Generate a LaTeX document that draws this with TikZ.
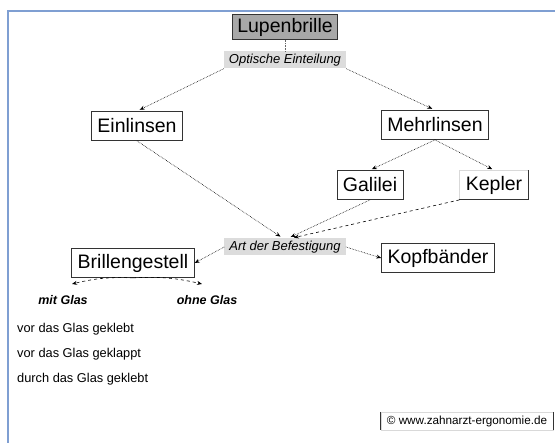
\documentclass[tikz,border=0pt]{standalone}
\usepackage{fontspec}
\setmainfont{Liberation Sans}
\usetikzlibrary{arrows.meta}

\definecolor{rahmenblau}{HTML}{7F9FD2}
\definecolor{kopfgrau}{HTML}{A8A8A8}
\definecolor{labelgrau}{HTML}{DCDCDC}

\begin{document}
\begin{tikzpicture}[x=1pt,y=-1pt,>={Stealth[length=5pt,width=4pt]},
    box/.style={draw=black!80,line width=0.8pt,inner xsep=6pt,minimum height=29pt,
        font=\fontsize{19.5}{22}\selectfont},
    kategorie/.style={fill=labelgrau,inner xsep=5pt,inner ysep=1pt,minimum height=17pt,
        font=\fontsize{13}{14}\selectfont\itshape},
    pfeil/.style={->,densely dotted,line width=0.6pt},
    strich/.style={->,dashed,line width=0.6pt},
    liste/.style={anchor=west,inner sep=0pt,font=\fontsize{12.8}{14}\selectfont}]
    \useasboundingbox (0,0) rectangle (555,443);

    %%%%%%%%%% Rahmen %%%%%%%%%%
    \draw[rahmenblau,line width=2pt] (555,11) -- (8,11) -- (8,443);

    %%%%%%%%%% Knoten %%%%%%%%%%
    \node[box,fill=kopfgrau,minimum height=24pt,inner xsep=5pt] (lupe) at (285,27) {Lupenbrille};
    \node[kategorie] (optik) at (285,60) {Optische Einteilung};
    \node[box] (ein) at (137,126) {Einlinsen};
    \node[box] (mehr) at (435,125) {Mehrlinsen};
    \node[box] (gal) at (370,185) {Galilei};
    \node[box,draw=black!15] (kep) at (494,185) {Kepler};
    \draw[black!80,line width=0.8pt] (kep.north east) -- (kep.south east) -- (kep.south west);
    \node[kategorie] (art) at (285,247) {Art der Befestigung};
    \node[box] (brille) at (133,263) {Brillengestell};
    \node[box] (kopf) at (438,258) {Kopfbänder};

    \node[font=\fontsize{12.5}{14}\selectfont\bfseries\itshape] (mit) at (63,300) {mit Glas};
    \node[font=\fontsize{12.5}{14}\selectfont\bfseries\itshape] (ohne) at (207,300) {ohne Glas};
    \coordinate (mitpfeil) at (72,284);
    \coordinate (ohnepfeil) at (202,284);

    \node[liste] (vor1) at (17,329) {vor das Glas geklebt};
    \node[liste] (vor2) at (17,354) {vor das Glas geklappt};
    \node[liste] (durch) at (17,379) {durch das Glas geklebt};

    \node[draw=black!15,inner xsep=4pt,minimum height=18pt,minimum width=172pt,
        font=\fontsize{11.7}{13}\selectfont] (copy) at (467,421) {© www.zahnarzt-ergonomie.de};
    \draw[black!80,line width=0.8pt] (copy.north west) -- (copy.south west);
    \draw[black!80,line width=0.8pt] (copy.north east) -- (copy.south east);

    %%%%%%%%% Pfeile %%%%%%%%%
    \draw[densely dotted,line width=0.6pt,black!60] (lupe.south) -- (optik.north);
    \draw[pfeil,shorten >=3pt] (optik.south west) -- (ein.north);
    \draw[pfeil,shorten >=3pt] (optik.south east) -- (mehr.north);
    \draw[pfeil,shorten >=2pt] (mehr.south) -- (gal.north);
    \draw[pfeil,shorten >=2pt] (mehr.south) -- (kep.north);
    \draw[pfeil,shorten >=3pt] (ein.south) -- ([xshift=-2pt]art.north);
    \draw[pfeil,shorten >=3pt] (gal.south) -- ([xshift=3pt]art.north);
    \draw[strich,shorten >=3pt] (kep.south west) -- ([xshift=6pt]art.north);
    \draw[pfeil] (art.west) -- (brille.east);
    \draw[pfeil] (art.east) -- (kopf.west);
    \draw[strich] (brille.south) to[bend right=8] (mitpfeil);
    \draw[strich] (brille.south) to[bend left=8] (ohnepfeil);
\end{tikzpicture}
\end{document}
